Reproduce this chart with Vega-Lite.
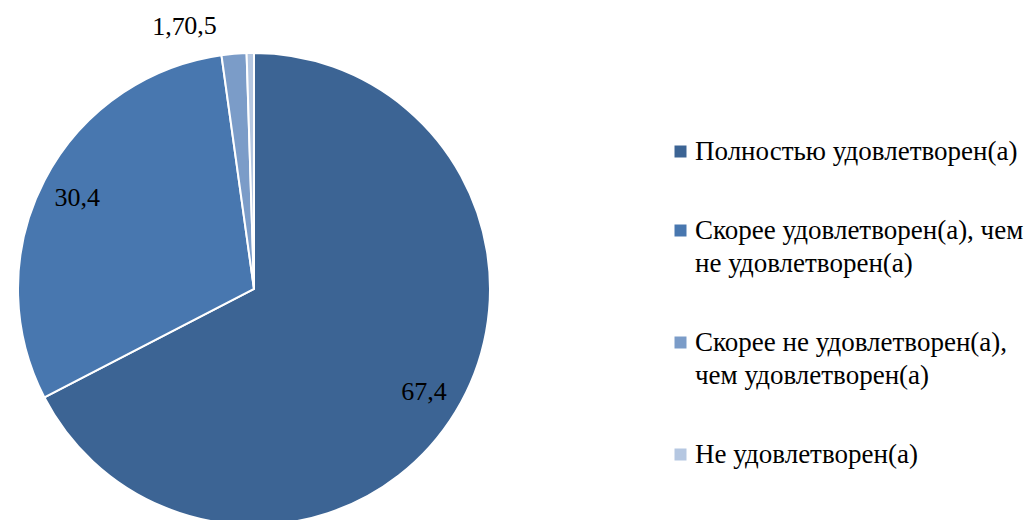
{
  "$schema": "https://vega.github.io/schema/vega-lite/v6.json",
  "autosize": "none",
  "width": 508,
  "height": 462,
  "padding": {"left": 0, "top": 58, "right": 517, "bottom": 0},
  "background": "white",
  "config": {
    "view": {"stroke": null},
    "style": {"guide-label": {"lineHeight": 33}}
  },
  "data": {
    "values": [
      {"idx": 1, "cat": "Полностью удовлетворен(а)", "value": 67.4, "lblIn": "67,4", "lblA": "", "lblB": ""},
      {"idx": 2, "cat": "Скорее удовлетворен(а), чем не удовлетворен(а)", "value": 30.4, "lblIn": "30,4", "lblA": "", "lblB": ""},
      {"idx": 3, "cat": "Скорее не удовлетворен(а), чем удовлетворен(а)", "value": 1.7, "lblIn": "", "lblA": "1,7", "lblB": ""},
      {"idx": 4, "cat": "Не удовлетворен(а)", "value": 0.5, "lblIn": "", "lblA": "", "lblB": "0,5"}
    ]
  },
  "encoding": {
    "theta": {"field": "value", "type": "quantitative", "stack": true},
    "order": {"field": "idx", "type": "quantitative", "sort": "ascending"}
  },
  "layer": [
    {
      "mark": {"type": "arc", "outerRadius": 236, "stroke": "white", "strokeWidth": 2},
      "encoding": {
        "color": {
          "field": "cat",
          "type": "nominal",
          "sort": ["Полностью удовлетворен(а)", "Скорее удовлетворен(а), чем не удовлетворен(а)", "Скорее не удовлетворен(а), чем удовлетворен(а)", "Не удовлетворен(а)"],
          "scale": {
            "domain": ["Полностью удовлетворен(а)", "Скорее удовлетворен(а), чем не удовлетворен(а)", "Скорее не удовлетворен(а), чем удовлетворен(а)", "Не удовлетворен(а)"],
            "range": ["#3C6494", "#4877AF", "#7B9CC8", "#B5C7E1"]
          },
          "legend": {
            "title": null,
            "orient": "none",
            "legendX": 667,
            "legendY": 80,
            "padding": 0,
            "symbolType": "square",
            "symbolSize": 144,
            "symbolStrokeWidth": 0,
            "labelFont": "Liberation Serif",
            "labelFontSize": 27,
            "labelColor": "black",
            "labelLimit": 400,
            "labelOffset": 1,
            "rowPadding": 51,
            "labelExpr": "datum.label == 'Скорее удовлетворен(а), чем не удовлетворен(а)' ? ['Скорее удовлетворен(а), чем', 'не удовлетворен(а)'] : datum.label == 'Скорее не удовлетворен(а), чем удовлетворен(а)' ? ['Скорее не удовлетворен(а),', 'чем удовлетворен(а)'] : datum.label"
          }
        }
      }
    },
    {
      "mark": {"type": "text", "radius": 199, "font": "Liberation Serif", "fontSize": 26, "color": "black"},
      "encoding": {"text": {"field": "lblIn", "type": "nominal"}}
    },
    {
      "mark": {"type": "text", "radius": 263, "font": "Liberation Serif", "fontSize": 26, "color": "black", "align": "right", "dx": -47},
      "encoding": {"text": {"field": "lblA", "type": "nominal"}}
    },
    {
      "mark": {"type": "text", "radius": 263, "font": "Liberation Serif", "fontSize": 26, "color": "black", "align": "right", "dx": -33},
      "encoding": {"text": {"field": "lblB", "type": "nominal"}}
    }
  ]
}
